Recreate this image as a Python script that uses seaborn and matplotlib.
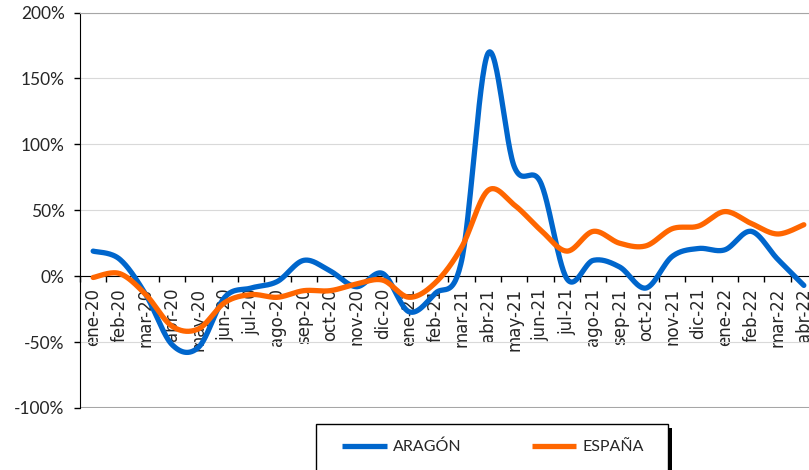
import numpy as np
import pandas as pd
import matplotlib
matplotlib.use("Agg")
import matplotlib.pyplot as plt
from matplotlib.patches import Rectangle
from matplotlib.lines import Line2D
import seaborn as sns

# month labels and year-on-year change (%)
meses = ['ene-20', 'feb-20', 'mar-20', 'abr-20', 'may-20', 'jun-20', 'jul-20',
         'ago-20', 'sep-20', 'oct-20', 'nov-20', 'dic-20', 'ene-21', 'feb-21',
         'mar-21', 'abr-21', 'may-21', 'jun-21', 'jul-21', 'ago-21', 'sep-21',
         'oct-21', 'nov-21', 'dic-21', 'ene-22', 'feb-22', 'mar-22', 'abr-22']
aragon = [19, 13, -14, -52, -54, -16, -9, -4, 12, 4, -8, 2, -27, -13,
          12, 169, 83, 71, -2, 12, 7, -9, 15, 21, 20, 34, 13, -7]
espana = [-1, 2, -14, -38, -40, -20, -14, -16, -11, -11, -6, -3, -16, -5,
          22, 65, 54, 35, 19, 34, 25, 23, 36, 38, 49, 40, 32, 39]
series_names = ['ARAGÓN', 'ESPAÑA']
colores = ['#0066CC', '#FF6600']
y_ticks = [-100, -50, 0, 50, 100, 150, 200]


# Excel style smoothed line (bezier through every point)
def suavizar(vals, n=30):
    pts = np.column_stack([np.arange(len(vals)), np.asarray(vals, float)])
    p = np.vstack([pts[0], pts, pts[-1]])
    out = []
    t = np.linspace(0, 1, n, endpoint=False)[:, None]
    for i in range(1, len(p) - 2):
        p0, p1, p2, p3 = p[i - 1], p[i], p[i + 1], p[i + 2]
        c1 = p1 + (p2 - p0) / 6
        c2 = p2 - (p3 - p1) / 6
        seg = ((1 - t) ** 3) * p1 + 3 * ((1 - t) ** 2) * t * c1 + 3 * (1 - t) * t ** 2 * c2 + t ** 3 * p2
        out.append(seg)
    out.append(pts[-1][None, :])
    return np.vstack(out)


frames = []
for name, vals in zip(series_names, [aragon, espana]):
    c = suavizar(vals)
    frames.append(pd.DataFrame({'x': c[:, 0], 'y': c[:, 1], 'serie': name}))
df = pd.concat(frames, ignore_index=True)

sns.set_style("white")
plt.rcParams['font.family'] = ['DejaVu Sans']

W, H = 809, 470
fig = plt.figure(figsize=(W / 100, H / 100), dpi=100)
left, right, top, bottom = 80, 817, 12.5, 408
ax = fig.add_axes([left / W, (H - bottom) / H, (right - left) / W, (bottom - top) / H])

for name, col in zip(series_names, colores):
    sub = df[df['serie'] == name]
    sns.lineplot(x=sub['x'].values, y=sub['y'].values, sort=False, color=col,
                 linewidth=3.8, ax=ax, legend=False, zorder=3)

ax.set_xlim(-0.5, len(meses) - 0.5)
ax.set_ylim(-100, 200)
ax.set_yticks(y_ticks)
ax.set_yticklabels([f'{v}%' for v in y_ticks], family='Lato', fontsize=12.5)
ax.yaxis.grid(True, color='#d9d9d9', linewidth=0.8)
ax.set_axisbelow(True)
ax.tick_params(axis='y', length=4.5, width=1, color='black', pad=6.5, left=True)

ax.spines['bottom'].set_position(('data', 0))
ax.spines['bottom'].set_color('black')
ax.spines['bottom'].set_zorder(2)
ax.spines['left'].set_color('black')
ax.spines['top'].set_color('#a6a6a6')
ax.spines['right'].set_visible(False)
ax.axhline(-100, color='#a6a6a6', linewidth=1.5, zorder=1)

ax.set_xticks(np.arange(len(meses)))
ax.set_xticklabels(meses, rotation=90, fontsize=12)
ax.set_xticks(np.arange(len(meses) + 1) - 0.5, minor=True)
ax.tick_params(axis='x', which='major', length=0, pad=8.5, bottom=True)
ax.tick_params(axis='x', which='minor', length=4, width=1, color='black', bottom=True)
ax.set_xlabel('')
ax.set_ylabel('')

# legend box with dark shadow, cut by the bottom edge like the reference
fig_ax = fig.add_axes([0, 0, 1, 1], facecolor='none')
fig_ax.set_xlim(0, W)
fig_ax.set_ylim(H, 0)
fig_ax.axis('off')
fig_ax.add_patch(Rectangle((320, 428), 352, 60, facecolor='black', edgecolor='none'))
fig_ax.add_patch(Rectangle((316, 424), 352, 60, facecolor='white', edgecolor='black', linewidth=1))

handles = [Line2D([], [], color=c, linewidth=3.8, solid_capstyle='butt') for c in colores]
leg = fig_ax.legend(handles, series_names, loc='center', bbox_to_anchor=(493, 447),
                    bbox_transform=fig_ax.transData, ncol=2, frameon=False,
                    handlelength=2.8, handletextpad=0.35, columnspacing=4.4,
                    prop={'family': 'Lato', 'size': 11.5})

fig.savefig('out.png', dpi=100)
